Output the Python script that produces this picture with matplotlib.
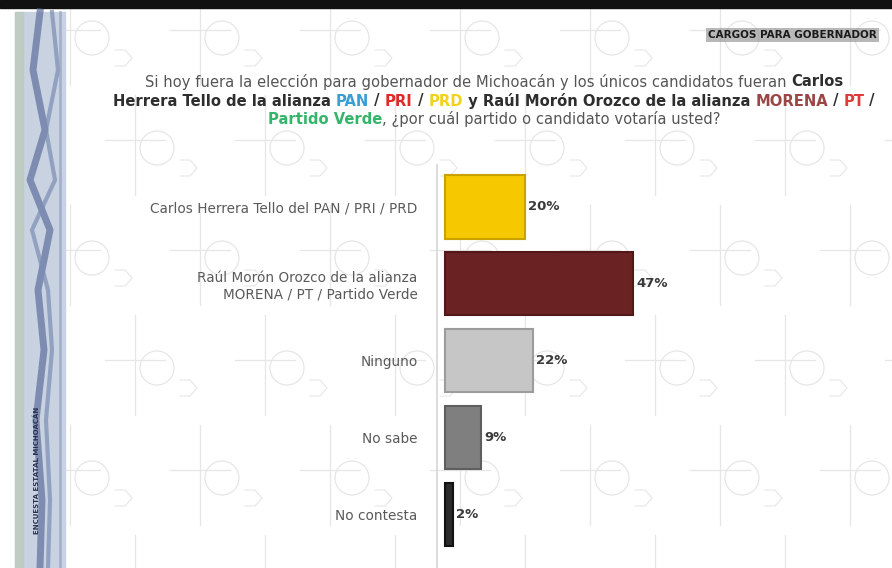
import numpy as np
import matplotlib
matplotlib.use("Agg")
import matplotlib.pyplot as plt
from matplotlib.patches import Rectangle, Circle

# data
categories = [
    "Carlos Herrera Tello del PAN / PRI / PRD",
    "Raúl Morón Orozco de la alianza\nMORENA / PT / Partido Verde",
    "Ninguno",
    "No sabe",
    "No contesta",
]
values = [20, 47, 22, 9, 2]
bar_colors = ["#f6c800", "#6b2222", "#c6c6c6", "#7f7f7f", "#2b2b2b"]
edge_colors = ["#c9a200", "#521818", "#9c9c9c", "#5e5e5e", "#111111"]

W, H = 892, 568
fig = plt.figure(figsize=(W / 100, H / 100), dpi=100)
fig.patch.set_facecolor("white")

# background layer: faint sketch pattern, top band and left strip
bg = fig.add_axes([0, 0, 1, 1], zorder=-10)
bg.set_xlim(0, W)
bg.set_ylim(H, 0)
bg.axis("off")

pat = "#e6e6e6"
for row, y0 in enumerate(range(30, H + 60, 110)):
    shift = 0 if row % 2 == 0 else 65
    for x0 in range(70 + shift, W + 60, 130):
        bg.plot([x0, x0], [y0 - 45, y0 + 55], color=pat, lw=0.9, zorder=1)
        bg.plot([x0 - 30, x0 + 30], [y0, y0], color=pat, lw=0.9, zorder=1)
        bg.add_patch(Circle((x0 + 22, y0 + 8), 17, fill=False, ec=pat, lw=0.9, zorder=1))
        bg.plot([x0 + 45, x0 + 55, x0 + 62, x0 + 55, x0 + 45],
                [y0 + 20, y0 + 20, y0 + 28, y0 + 36, y0 + 36], color=pat, lw=0.8, zorder=1)

bg.add_patch(Rectangle((0, 0), W, 8, color="#111111", zorder=5))
bg.add_patch(Rectangle((15, 12), 50, H - 12, color="#c9d2e0", zorder=5))
bg.add_patch(Rectangle((15, 12), 8, H - 12, color="#b7c9b0", alpha=0.6, zorder=5))
wave1_x = [40, 33, 45, 30, 50, 38, 44, 36, 42, 40]
wave1_y = [12, 70, 130, 180, 230, 290, 350, 420, 500, 568]
wave2_x = [52, 58, 46, 55, 32, 48, 52, 46, 50, 48]
bg.plot(wave1_x, wave1_y, color="#5d6f9c", lw=5, alpha=0.7, zorder=6)
bg.plot(wave2_x, wave1_y, color="#7d8db5", lw=3, alpha=0.7, zorder=6)
bg.plot([60, 60], [12, H], color="#8d9bbd", lw=2, alpha=0.6, zorder=6)
bg.text(37, 470, "ENCUESTA ESTATAL MICHOACÁN", rotation=90, fontsize=5,
        fontweight="bold", color="#2a3050", ha="center", va="center", zorder=7)

# top right tag
bg.text(877, 35, "CARGOS PARA GOBERNADOR", fontsize=7.5, fontweight="bold",
        color="#1a1a1a", ha="right", va="center", zorder=7,
        bbox=dict(boxstyle="square,pad=0.2", fc="#8a8a8a", ec="none", alpha=0.6))

# multi-coloured question text
renderer = fig.canvas.get_renderer()
dark = "#2e2e2e"
gray = "#555555"
title_lines = [
    [("Si hoy fuera la elección para gobernador de Michoacán y los únicos candidatos fueran ", gray, "normal"),
     ("Carlos", dark, "bold")],
    [("Herrera Tello de la alianza ", dark, "bold"), ("PAN", "#3b9fd6", "bold"),
     (" / ", dark, "bold"), ("PRI", "#e02a2a", "bold"), (" / ", dark, "bold"),
     ("PRD", "#f2d21b", "bold"), (" y Raúl Morón Orozco de la alianza ", dark, "bold"),
     ("MORENA", "#9c4545", "bold"), (" / ", dark, "bold"), ("PT", "#e03a3a", "bold"),
     (" /", dark, "bold")],
    [("Partido Verde", "#35b56a", "bold"), (", ¿por cuál partido o candidato votaría usted?", gray, "normal")],
]
line_y = [82, 101, 119]
cx = 494
fs = 10.6
for parts, ly in zip(title_lines, line_y):
    pieces = []
    total = 0
    for s, c, w in parts:
        t = bg.text(0, ly, s, fontsize=fs, color=c, fontweight=w, va="center", ha="left", zorder=7)
        ext = t.get_window_extent(renderer=renderer)
        pieces.append((t, ext.width))
        total += ext.width
    x = cx - total / 2
    for t, wpx in pieces:
        t.set_x(x)
        x += wpx

# chart axes
ax = fig.add_axes([437 / W, 0, 400 / W, (H - 165) / H])
ax.patch.set_alpha(0)
pos = np.arange(len(categories))
ax.barh(pos, values, height=0.82, left=0, color=bar_colors,
        edgecolor=edge_colors, linewidth=1.5)
ax.set_xlim(-2, 98)
ax.set_ylim(4.69, -0.545)
ax.set_yticks(pos)
ax.set_yticklabels(categories, fontsize=9.8, color="#5a5a5a", ha="right")
ax.tick_params(axis="y", length=0, pad=14)
ax.set_xticks([])
for side in ["top", "right", "bottom"]:
    ax.spines[side].set_visible(False)
ax.spines["left"].set_color("#d6d6d6")
ax.spines["left"].set_linewidth(1.2)

for p, v in zip(pos, values):
    ax.text(v + 0.8, p, f"{v}%", fontsize=9.5, fontweight="bold",
            color="#3a3a3a", va="center", ha="left")

fig.savefig("out.png", dpi=100)
